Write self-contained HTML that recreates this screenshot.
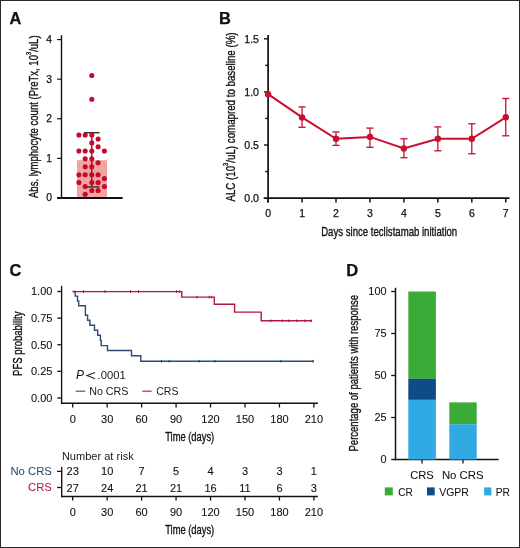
<!DOCTYPE html><html><head><meta charset="utf-8"><style>html,body{margin:0;padding:0;background:#fff;}svg{display:block;will-change:transform;}text{font-family:"Liberation Sans",sans-serif;}</style></head><body>
<svg width="520" height="548" viewBox="0 0 520 548">
<rect x="0" y="0" width="520" height="548" fill="#fff"/>
<rect x="0.5" y="0.5" width="519" height="547" fill="none" stroke="#2a2a2a" stroke-width="1"/>
<text x="9.6" y="23.8" font-size="16.4" text-anchor="start" fill="#111" font-weight="bold" stroke="#111" stroke-width="0.25">A</text>
<rect x="77" y="160.2" width="30" height="37.5" fill="#f0a5a0"/>
<line x1="61.5" y1="35.2" x2="61.5" y2="198.5" stroke="#111" stroke-width="1.4"/>
<line x1="57.1" y1="197.95" x2="122.6" y2="197.95" stroke="#111" stroke-width="2"/>
<line x1="57.1" y1="39.54999999999998" x2="61.5" y2="39.54999999999998" stroke="#111" stroke-width="1.2"/>
<line x1="57.1" y1="79.14999999999998" x2="61.5" y2="79.14999999999998" stroke="#111" stroke-width="1.2"/>
<line x1="57.1" y1="118.74999999999999" x2="61.5" y2="118.74999999999999" stroke="#111" stroke-width="1.2"/>
<line x1="57.1" y1="158.35" x2="61.5" y2="158.35" stroke="#111" stroke-width="1.2"/>
<text x="49.1" y="201.45" font-size="10.3" text-anchor="middle" fill="#111" stroke="#111" stroke-width="0.25">0</text>
<text x="49.1" y="161.85" font-size="10.3" text-anchor="middle" fill="#111" stroke="#111" stroke-width="0.25">1</text>
<text x="49.1" y="122.24999999999999" font-size="10.3" text-anchor="middle" fill="#111" stroke="#111" stroke-width="0.25">2</text>
<text x="49.1" y="82.64999999999998" font-size="10.3" text-anchor="middle" fill="#111" stroke="#111" stroke-width="0.25">3</text>
<text x="49.1" y="43.04999999999998" font-size="10.3" text-anchor="middle" fill="#111" stroke="#111" stroke-width="0.25">4</text>
<text transform="translate(38.2,116.7) rotate(-90)" font-size="12.8" text-anchor="middle" fill="#111" textLength="162.6" lengthAdjust="spacingAndGlyphs" stroke="#111" stroke-width="0.35">Abs. lymphocyte count (PreTx, 10<tspan font-size="7.8" dy="-7.4">3</tspan><tspan dy="7.4">/uL)</tspan></text>
<line x1="91.8" y1="132.7" x2="91.8" y2="186.9" stroke="#3a2a2a" stroke-width="1.3"/>
<line x1="84" y1="132.7" x2="99.6" y2="132.7" stroke="#3a2a2a" stroke-width="1.4"/>
<line x1="84" y1="186.9" x2="99.6" y2="186.9" stroke="#3a2a2a" stroke-width="1.4"/>
<circle cx="91.8" cy="75.5" r="2.55" fill="#c40a2c"/>
<circle cx="91.8" cy="99.2" r="2.55" fill="#c40a2c"/>
<circle cx="78.9" cy="135" r="2.55" fill="#c40a2c"/>
<circle cx="85.2" cy="135" r="2.55" fill="#c40a2c"/>
<circle cx="91.8" cy="135" r="2.55" fill="#c40a2c"/>
<circle cx="98.1" cy="139" r="2.55" fill="#c40a2c"/>
<circle cx="91.8" cy="142.9" r="2.55" fill="#c40a2c"/>
<circle cx="98.1" cy="146.7" r="2.55" fill="#c40a2c"/>
<circle cx="78.9" cy="151" r="2.55" fill="#c40a2c"/>
<circle cx="85.2" cy="151" r="2.55" fill="#c40a2c"/>
<circle cx="91.8" cy="151" r="2.55" fill="#c40a2c"/>
<circle cx="104.4" cy="151" r="2.55" fill="#c40a2c"/>
<circle cx="85.2" cy="158.7" r="2.55" fill="#c40a2c"/>
<circle cx="91.8" cy="158.7" r="2.55" fill="#c40a2c"/>
<circle cx="98.1" cy="162.7" r="2.55" fill="#c40a2c"/>
<circle cx="85.2" cy="166.8" r="2.55" fill="#c40a2c"/>
<circle cx="91.8" cy="166.8" r="2.55" fill="#c40a2c"/>
<circle cx="78.9" cy="174.7" r="2.55" fill="#c40a2c"/>
<circle cx="85.2" cy="174.7" r="2.55" fill="#c40a2c"/>
<circle cx="91.8" cy="174.7" r="2.55" fill="#c40a2c"/>
<circle cx="98.1" cy="174.7" r="2.55" fill="#c40a2c"/>
<circle cx="104.4" cy="178.5" r="2.55" fill="#c40a2c"/>
<circle cx="78.9" cy="182.5" r="2.55" fill="#c40a2c"/>
<circle cx="91.8" cy="182.5" r="2.55" fill="#c40a2c"/>
<circle cx="98.1" cy="182.5" r="2.55" fill="#c40a2c"/>
<circle cx="85.2" cy="186.5" r="2.55" fill="#c40a2c"/>
<circle cx="104.4" cy="186.5" r="2.55" fill="#c40a2c"/>
<circle cx="91.8" cy="190.5" r="2.55" fill="#c40a2c"/>
<circle cx="98.1" cy="190.5" r="2.55" fill="#c40a2c"/>
<circle cx="85.2" cy="194.2" r="2.55" fill="#c40a2c"/>
<text x="219.0" y="23.75" font-size="16.4" text-anchor="start" fill="#111" font-weight="bold" stroke="#111" stroke-width="0.25">B</text>
<line x1="268.1" y1="35" x2="268.1" y2="202.4" stroke="#111" stroke-width="1.7"/>
<line x1="263.7" y1="198.1" x2="509.6" y2="198.1" stroke="#111" stroke-width="1.9"/>
<line x1="264.0" y1="145.0" x2="268.1" y2="145.0" stroke="#111" stroke-width="1.4"/>
<line x1="264.0" y1="91.89999999999999" x2="268.1" y2="91.89999999999999" stroke="#111" stroke-width="1.4"/>
<line x1="264.0" y1="38.79999999999998" x2="268.1" y2="38.79999999999998" stroke="#111" stroke-width="1.4"/>
<line x1="265.2" y1="171.54999999999998" x2="268.1" y2="171.54999999999998" stroke="#111" stroke-width="1.4"/>
<line x1="265.2" y1="118.44999999999999" x2="268.1" y2="118.44999999999999" stroke="#111" stroke-width="1.4"/>
<line x1="265.2" y1="65.35" x2="268.1" y2="65.35" stroke="#111" stroke-width="1.4"/>
<line x1="268.1" y1="198.1" x2="268.1" y2="202.5" stroke="#111" stroke-width="1.5"/>
<text x="268.1" y="216.7" font-size="10.5" text-anchor="middle" fill="#111" stroke="#111" stroke-width="0.25">0</text>
<line x1="302.05" y1="198.1" x2="302.05" y2="202.5" stroke="#111" stroke-width="1.5"/>
<text x="302.05" y="216.7" font-size="10.5" text-anchor="middle" fill="#111" stroke="#111" stroke-width="0.25">1</text>
<line x1="336.0" y1="198.1" x2="336.0" y2="202.5" stroke="#111" stroke-width="1.5"/>
<text x="336.0" y="216.7" font-size="10.5" text-anchor="middle" fill="#111" stroke="#111" stroke-width="0.25">2</text>
<line x1="369.95000000000005" y1="198.1" x2="369.95000000000005" y2="202.5" stroke="#111" stroke-width="1.5"/>
<text x="369.95000000000005" y="216.7" font-size="10.5" text-anchor="middle" fill="#111" stroke="#111" stroke-width="0.25">3</text>
<line x1="403.90000000000003" y1="198.1" x2="403.90000000000003" y2="202.5" stroke="#111" stroke-width="1.5"/>
<text x="403.90000000000003" y="216.7" font-size="10.5" text-anchor="middle" fill="#111" stroke="#111" stroke-width="0.25">4</text>
<line x1="437.85" y1="198.1" x2="437.85" y2="202.5" stroke="#111" stroke-width="1.5"/>
<text x="437.85" y="216.7" font-size="10.5" text-anchor="middle" fill="#111" stroke="#111" stroke-width="0.25">5</text>
<line x1="471.80000000000007" y1="198.1" x2="471.80000000000007" y2="202.5" stroke="#111" stroke-width="1.5"/>
<text x="471.80000000000007" y="216.7" font-size="10.5" text-anchor="middle" fill="#111" stroke="#111" stroke-width="0.25">6</text>
<line x1="505.75000000000006" y1="198.1" x2="505.75000000000006" y2="202.5" stroke="#111" stroke-width="1.5"/>
<text x="505.75000000000006" y="216.7" font-size="10.5" text-anchor="middle" fill="#111" stroke="#111" stroke-width="0.25">7</text>
<text x="259.0" y="201.79999999999998" font-size="10.6" text-anchor="end" fill="#111" stroke="#111" stroke-width="0.25">0.0</text>
<text x="259.0" y="148.7" font-size="10.6" text-anchor="end" fill="#111" stroke="#111" stroke-width="0.25">0.5</text>
<text x="259.0" y="95.6" font-size="10.6" text-anchor="end" fill="#111" stroke="#111" stroke-width="0.25">1.0</text>
<text x="259.0" y="42.499999999999986" font-size="10.6" text-anchor="end" fill="#111" stroke="#111" stroke-width="0.25">1.5</text>
<text transform="translate(235.3,117) rotate(-90)" font-size="12.8" text-anchor="middle" fill="#111" textLength="169.1" lengthAdjust="spacingAndGlyphs" stroke="#111" stroke-width="0.35">ALC (10<tspan font-size="7.6" dy="-7.8">3</tspan><tspan dy="7.8">/uL) comapred to baseline (%)</tspan></text>
<text x="389.2" y="235.8" font-size="12.8" text-anchor="middle" fill="#111" textLength="136" lengthAdjust="spacingAndGlyphs" stroke="#111" stroke-width="0.35">Days since teclistamab initiation</text>
<path d="M268.1,94.2 L302.1,117.4 L336.0,138.8 L370.0,136.9 L403.9,148.5 L437.9,138.8 L471.8,138.8 L505.8,117.3" fill="none" stroke="#c8102e" stroke-width="2"/>
<circle cx="268.1" cy="94.2" r="3.2" fill="#c8102e"/>
<line x1="302.05" y1="106.9" x2="302.05" y2="127.3" stroke="#c8102e" stroke-width="1.3"/>
<line x1="298.45" y1="106.9" x2="305.65000000000003" y2="106.9" stroke="#c8102e" stroke-width="1.3"/>
<line x1="298.45" y1="127.3" x2="305.65000000000003" y2="127.3" stroke="#c8102e" stroke-width="1.3"/>
<circle cx="302.1" cy="117.4" r="3.2" fill="#c8102e"/>
<line x1="336.0" y1="131.9" x2="336.0" y2="145.4" stroke="#c8102e" stroke-width="1.3"/>
<line x1="332.4" y1="131.9" x2="339.6" y2="131.9" stroke="#c8102e" stroke-width="1.3"/>
<line x1="332.4" y1="145.4" x2="339.6" y2="145.4" stroke="#c8102e" stroke-width="1.3"/>
<circle cx="336.0" cy="138.8" r="3.2" fill="#c8102e"/>
<line x1="369.95000000000005" y1="128.1" x2="369.95000000000005" y2="147.3" stroke="#c8102e" stroke-width="1.3"/>
<line x1="366.35" y1="128.1" x2="373.55000000000007" y2="128.1" stroke="#c8102e" stroke-width="1.3"/>
<line x1="366.35" y1="147.3" x2="373.55000000000007" y2="147.3" stroke="#c8102e" stroke-width="1.3"/>
<circle cx="370.0" cy="136.9" r="3.2" fill="#c8102e"/>
<line x1="403.90000000000003" y1="138.8" x2="403.90000000000003" y2="157.7" stroke="#c8102e" stroke-width="1.3"/>
<line x1="400.3" y1="138.8" x2="407.50000000000006" y2="138.8" stroke="#c8102e" stroke-width="1.3"/>
<line x1="400.3" y1="157.7" x2="407.50000000000006" y2="157.7" stroke="#c8102e" stroke-width="1.3"/>
<circle cx="403.9" cy="148.5" r="3.2" fill="#c8102e"/>
<line x1="437.85" y1="126.9" x2="437.85" y2="150.8" stroke="#c8102e" stroke-width="1.3"/>
<line x1="434.25" y1="126.9" x2="441.45000000000005" y2="126.9" stroke="#c8102e" stroke-width="1.3"/>
<line x1="434.25" y1="150.8" x2="441.45000000000005" y2="150.8" stroke="#c8102e" stroke-width="1.3"/>
<circle cx="437.9" cy="138.8" r="3.2" fill="#c8102e"/>
<line x1="471.80000000000007" y1="123.8" x2="471.80000000000007" y2="153.8" stroke="#c8102e" stroke-width="1.3"/>
<line x1="468.20000000000005" y1="123.8" x2="475.4000000000001" y2="123.8" stroke="#c8102e" stroke-width="1.3"/>
<line x1="468.20000000000005" y1="153.8" x2="475.4000000000001" y2="153.8" stroke="#c8102e" stroke-width="1.3"/>
<circle cx="471.8" cy="138.8" r="3.2" fill="#c8102e"/>
<line x1="505.75000000000006" y1="98.5" x2="505.75000000000006" y2="135.8" stroke="#c8102e" stroke-width="1.3"/>
<line x1="502.15000000000003" y1="98.5" x2="509.3500000000001" y2="98.5" stroke="#c8102e" stroke-width="1.3"/>
<line x1="502.15000000000003" y1="135.8" x2="509.3500000000001" y2="135.8" stroke="#c8102e" stroke-width="1.3"/>
<circle cx="505.8" cy="117.3" r="3.2" fill="#c8102e"/>
<text x="9.6" y="276.2" font-size="16.4" text-anchor="start" fill="#111" font-weight="bold" stroke="#111" stroke-width="0.25">C</text>
<line x1="61.6" y1="285.8" x2="61.6" y2="403.8" stroke="#111" stroke-width="1.35"/>
<line x1="61" y1="403.2" x2="317.9" y2="403.2" stroke="#111" stroke-width="1.35"/>
<line x1="57.3" y1="398.0" x2="61.6" y2="398.0" stroke="#111" stroke-width="1.3"/>
<text x="52.4" y="401.9" font-size="11" text-anchor="end" fill="#111" stroke="#111" stroke-width="0.1">0.00</text>
<line x1="57.3" y1="371.375" x2="61.6" y2="371.375" stroke="#111" stroke-width="1.3"/>
<text x="52.4" y="375.275" font-size="11" text-anchor="end" fill="#111" stroke="#111" stroke-width="0.1">0.25</text>
<line x1="57.3" y1="344.75" x2="61.6" y2="344.75" stroke="#111" stroke-width="1.3"/>
<text x="52.4" y="348.65" font-size="11" text-anchor="end" fill="#111" stroke="#111" stroke-width="0.1">0.50</text>
<line x1="57.3" y1="318.125" x2="61.6" y2="318.125" stroke="#111" stroke-width="1.3"/>
<text x="52.4" y="322.025" font-size="11" text-anchor="end" fill="#111" stroke="#111" stroke-width="0.1">0.75</text>
<line x1="57.3" y1="291.5" x2="61.6" y2="291.5" stroke="#111" stroke-width="1.3"/>
<text x="52.4" y="295.4" font-size="11" text-anchor="end" fill="#111" stroke="#111" stroke-width="0.1">1.00</text>
<line x1="72.7" y1="403.2" x2="72.7" y2="407.5" stroke="#111" stroke-width="1.3"/>
<text x="72.7" y="422.6" font-size="11" text-anchor="middle" fill="#111" stroke="#111" stroke-width="0.1">0</text>
<line x1="107.158" y1="403.2" x2="107.158" y2="407.5" stroke="#111" stroke-width="1.3"/>
<text x="107.158" y="422.6" font-size="11" text-anchor="middle" fill="#111" stroke="#111" stroke-width="0.1">30</text>
<line x1="141.61599999999999" y1="403.2" x2="141.61599999999999" y2="407.5" stroke="#111" stroke-width="1.3"/>
<text x="141.61599999999999" y="422.6" font-size="11" text-anchor="middle" fill="#111" stroke="#111" stroke-width="0.1">60</text>
<line x1="176.074" y1="403.2" x2="176.074" y2="407.5" stroke="#111" stroke-width="1.3"/>
<text x="176.074" y="422.6" font-size="11" text-anchor="middle" fill="#111" stroke="#111" stroke-width="0.1">90</text>
<line x1="210.53199999999998" y1="403.2" x2="210.53199999999998" y2="407.5" stroke="#111" stroke-width="1.3"/>
<text x="210.53199999999998" y="422.6" font-size="11" text-anchor="middle" fill="#111" stroke="#111" stroke-width="0.1">120</text>
<line x1="244.99" y1="403.2" x2="244.99" y2="407.5" stroke="#111" stroke-width="1.3"/>
<text x="244.99" y="422.6" font-size="11" text-anchor="middle" fill="#111" stroke="#111" stroke-width="0.1">150</text>
<line x1="279.44800000000004" y1="403.2" x2="279.44800000000004" y2="407.5" stroke="#111" stroke-width="1.3"/>
<text x="279.44800000000004" y="422.6" font-size="11" text-anchor="middle" fill="#111" stroke="#111" stroke-width="0.1">180</text>
<line x1="313.906" y1="403.2" x2="313.906" y2="407.5" stroke="#111" stroke-width="1.3"/>
<text x="313.906" y="422.6" font-size="11" text-anchor="middle" fill="#111" stroke="#111" stroke-width="0.1">210</text>
<text x="189.7" y="441.2" font-size="12.5" text-anchor="middle" fill="#111" textLength="49" lengthAdjust="spacingAndGlyphs" stroke="#111" stroke-width="0.35">Time (days)</text>
<text transform="translate(21.5,343.7) rotate(-90)" font-size="12.8" text-anchor="middle" fill="#111" textLength="64.4" lengthAdjust="spacingAndGlyphs" stroke="#111" stroke-width="0.35">PFS probability</text>
<path d="M72.7,291.6 H181.8 V297.1 H214.3 V304.2 H234.6 V312.1 H261.2 V320.8 H311.9" fill="none" stroke="#b0183e" stroke-width="1.4"/>
<path d="M72.7,291.5 H75.2 V296.1 H77.5 V301 H78.7 V305.7 H85.4 V315.2 H87.6 V320.3 H89.9 V325.2 H94.5 V330.2 H97.7 V335.2 H100.4 V340.4 H101.2 V345.6 H107.5 V350.5 H131.5 V355.8 H140.8 V361.2 H313.8" fill="none" stroke="#2a4d74" stroke-width="1.4"/>
<line x1="83.4" y1="290.2" x2="83.4" y2="292.9" stroke="#9a1535" stroke-width="1"/>
<line x1="105.1" y1="290.2" x2="105.1" y2="292.9" stroke="#9a1535" stroke-width="1"/>
<line x1="130.5" y1="290.2" x2="130.5" y2="292.9" stroke="#9a1535" stroke-width="1"/>
<line x1="138.5" y1="290.2" x2="138.5" y2="292.9" stroke="#9a1535" stroke-width="1"/>
<line x1="176.6" y1="290.2" x2="176.6" y2="292.9" stroke="#9a1535" stroke-width="1"/>
<line x1="179.6" y1="290.2" x2="179.6" y2="292.9" stroke="#9a1535" stroke-width="1"/>
<line x1="196.9" y1="295.8" x2="196.9" y2="298.4" stroke="#9a1535" stroke-width="1"/>
<line x1="209.2" y1="295.8" x2="209.2" y2="298.4" stroke="#9a1535" stroke-width="1"/>
<line x1="211.7" y1="295.8" x2="211.7" y2="298.4" stroke="#9a1535" stroke-width="1"/>
<line x1="270.8" y1="319.5" x2="270.8" y2="322.1" stroke="#9a1535" stroke-width="1"/>
<line x1="282.4" y1="319.5" x2="282.4" y2="322.1" stroke="#9a1535" stroke-width="1"/>
<line x1="288.8" y1="319.5" x2="288.8" y2="322.1" stroke="#9a1535" stroke-width="1"/>
<line x1="296.7" y1="319.5" x2="296.7" y2="322.1" stroke="#9a1535" stroke-width="1"/>
<line x1="304.9" y1="319.5" x2="304.9" y2="322.1" stroke="#9a1535" stroke-width="1"/>
<line x1="311.1" y1="319.5" x2="311.1" y2="322.1" stroke="#9a1535" stroke-width="1"/>
<line x1="161.5" y1="359.9" x2="161.5" y2="362.5" stroke="#253f5c" stroke-width="1"/>
<line x1="169.2" y1="359.9" x2="169.2" y2="362.5" stroke="#253f5c" stroke-width="1"/>
<line x1="199.1" y1="359.9" x2="199.1" y2="362.5" stroke="#253f5c" stroke-width="1"/>
<line x1="214.9" y1="359.9" x2="214.9" y2="362.5" stroke="#253f5c" stroke-width="1"/>
<line x1="280.9" y1="359.9" x2="280.9" y2="362.5" stroke="#253f5c" stroke-width="1"/>
<line x1="313" y1="359.9" x2="313" y2="362.5" stroke="#253f5c" stroke-width="1"/>
<text x="76.0" y="378.9" font-size="12" fill="#111" font-style="italic">P</text>
<path d="M95.1,372.4 L87,375.6 L95.1,378.8" fill="none" stroke="#222" stroke-width="1.05"/>
<text x="97.6" y="378.9" font-size="11.8" text-anchor="start" fill="#1a1a1a" textLength="28.2" lengthAdjust="spacingAndGlyphs">.0001</text>
<line x1="75.7" y1="391.2" x2="85.2" y2="391.2" stroke="#4a6a8c" stroke-width="1.3"/>
<text x="89.2" y="395.2" font-size="11" text-anchor="start" fill="#1a1a1a" textLength="39.3" lengthAdjust="spacingAndGlyphs">No CRS</text>
<line x1="142.3" y1="391.2" x2="151.7" y2="391.2" stroke="#b83a5c" stroke-width="1.3"/>
<text x="156.2" y="395.2" font-size="11" text-anchor="start" fill="#1a1a1a" textLength="22.3" lengthAdjust="spacingAndGlyphs">CRS</text>
<text x="61.9" y="459.7" font-size="11" text-anchor="start" fill="#1a1a1a" textLength="71.8" lengthAdjust="spacingAndGlyphs">Number at risk</text>
<text x="51.9" y="475" font-size="11" text-anchor="end" fill="#294d72" textLength="41.5" lengthAdjust="spacingAndGlyphs" stroke="#294d72" stroke-width="0.05">No CRS</text>
<text x="51.9" y="491.2" font-size="11" text-anchor="end" fill="#b8183c" textLength="23.8" lengthAdjust="spacingAndGlyphs" stroke="#b8183c" stroke-width="0.05">CRS</text>
<line x1="61.7" y1="467" x2="61.7" y2="497.2" stroke="#111" stroke-width="1.35"/>
<line x1="61.1" y1="496.5" x2="317.9" y2="496.5" stroke="#111" stroke-width="1.5"/>
<line x1="57.1" y1="471.4" x2="61.7" y2="471.4" stroke="#111" stroke-width="1.3"/>
<line x1="57.1" y1="487.5" x2="61.7" y2="487.5" stroke="#111" stroke-width="1.3"/>
<line x1="72.7" y1="496.5" x2="72.7" y2="500.6" stroke="#111" stroke-width="1.3"/>
<text x="72.7" y="516" font-size="11" text-anchor="middle" fill="#111" stroke="#111" stroke-width="0.1">0</text>
<text x="72.7" y="474.9" font-size="11" text-anchor="middle" fill="#111" stroke="#111" stroke-width="0.1">23</text>
<text x="72.7" y="491.7" font-size="11" text-anchor="middle" fill="#111" stroke="#111" stroke-width="0.1">27</text>
<line x1="107.158" y1="496.5" x2="107.158" y2="500.6" stroke="#111" stroke-width="1.3"/>
<text x="107.158" y="516" font-size="11" text-anchor="middle" fill="#111" stroke="#111" stroke-width="0.1">30</text>
<text x="107.158" y="474.9" font-size="11" text-anchor="middle" fill="#111" stroke="#111" stroke-width="0.1">10</text>
<text x="107.158" y="491.7" font-size="11" text-anchor="middle" fill="#111" stroke="#111" stroke-width="0.1">24</text>
<line x1="141.61599999999999" y1="496.5" x2="141.61599999999999" y2="500.6" stroke="#111" stroke-width="1.3"/>
<text x="141.61599999999999" y="516" font-size="11" text-anchor="middle" fill="#111" stroke="#111" stroke-width="0.1">60</text>
<text x="141.61599999999999" y="474.9" font-size="11" text-anchor="middle" fill="#111" stroke="#111" stroke-width="0.1">7</text>
<text x="141.61599999999999" y="491.7" font-size="11" text-anchor="middle" fill="#111" stroke="#111" stroke-width="0.1">21</text>
<line x1="176.074" y1="496.5" x2="176.074" y2="500.6" stroke="#111" stroke-width="1.3"/>
<text x="176.074" y="516" font-size="11" text-anchor="middle" fill="#111" stroke="#111" stroke-width="0.1">90</text>
<text x="176.074" y="474.9" font-size="11" text-anchor="middle" fill="#111" stroke="#111" stroke-width="0.1">5</text>
<text x="176.074" y="491.7" font-size="11" text-anchor="middle" fill="#111" stroke="#111" stroke-width="0.1">21</text>
<line x1="210.53199999999998" y1="496.5" x2="210.53199999999998" y2="500.6" stroke="#111" stroke-width="1.3"/>
<text x="210.53199999999998" y="516" font-size="11" text-anchor="middle" fill="#111" stroke="#111" stroke-width="0.1">120</text>
<text x="210.53199999999998" y="474.9" font-size="11" text-anchor="middle" fill="#111" stroke="#111" stroke-width="0.1">4</text>
<text x="210.53199999999998" y="491.7" font-size="11" text-anchor="middle" fill="#111" stroke="#111" stroke-width="0.1">16</text>
<line x1="244.99" y1="496.5" x2="244.99" y2="500.6" stroke="#111" stroke-width="1.3"/>
<text x="244.99" y="516" font-size="11" text-anchor="middle" fill="#111" stroke="#111" stroke-width="0.1">150</text>
<text x="244.99" y="474.9" font-size="11" text-anchor="middle" fill="#111" stroke="#111" stroke-width="0.1">3</text>
<text x="244.99" y="491.7" font-size="11" text-anchor="middle" fill="#111" stroke="#111" stroke-width="0.1">11</text>
<line x1="279.44800000000004" y1="496.5" x2="279.44800000000004" y2="500.6" stroke="#111" stroke-width="1.3"/>
<text x="279.44800000000004" y="516" font-size="11" text-anchor="middle" fill="#111" stroke="#111" stroke-width="0.1">180</text>
<text x="279.44800000000004" y="474.9" font-size="11" text-anchor="middle" fill="#111" stroke="#111" stroke-width="0.1">3</text>
<text x="279.44800000000004" y="491.7" font-size="11" text-anchor="middle" fill="#111" stroke="#111" stroke-width="0.1">6</text>
<line x1="313.906" y1="496.5" x2="313.906" y2="500.6" stroke="#111" stroke-width="1.3"/>
<text x="313.906" y="516" font-size="11" text-anchor="middle" fill="#111" stroke="#111" stroke-width="0.1">210</text>
<text x="313.906" y="474.9" font-size="11" text-anchor="middle" fill="#111" stroke="#111" stroke-width="0.1">1</text>
<text x="313.906" y="491.7" font-size="11" text-anchor="middle" fill="#111" stroke="#111" stroke-width="0.1">3</text>
<text x="189.7" y="534.2" font-size="12.5" text-anchor="middle" fill="#111" textLength="49" lengthAdjust="spacingAndGlyphs" stroke="#111" stroke-width="0.35">Time (days)</text>
<text x="346.3" y="276.4" font-size="16.6" text-anchor="start" fill="#111" font-weight="bold" stroke="#111" stroke-width="0.25">D</text>
<line x1="395.5" y1="287.8" x2="395.5" y2="460.3" stroke="#111" stroke-width="1.5"/>
<line x1="394.8" y1="459.6" x2="498.6" y2="459.6" stroke="#111" stroke-width="1.5"/>
<line x1="391.2" y1="459.5" x2="395.5" y2="459.5" stroke="#111" stroke-width="1.3"/>
<text x="386.5" y="463.3" font-size="10.9" text-anchor="end" fill="#111" stroke="#111" stroke-width="0.1">0</text>
<line x1="391.2" y1="417.5" x2="395.5" y2="417.5" stroke="#111" stroke-width="1.3"/>
<text x="386.5" y="421.3" font-size="10.9" text-anchor="end" fill="#111" stroke="#111" stroke-width="0.1">25</text>
<line x1="391.2" y1="375.5" x2="395.5" y2="375.5" stroke="#111" stroke-width="1.3"/>
<text x="386.5" y="379.3" font-size="10.9" text-anchor="end" fill="#111" stroke="#111" stroke-width="0.1">50</text>
<line x1="391.2" y1="333.5" x2="395.5" y2="333.5" stroke="#111" stroke-width="1.3"/>
<text x="386.5" y="337.3" font-size="10.9" text-anchor="end" fill="#111" stroke="#111" stroke-width="0.1">75</text>
<line x1="391.2" y1="291.5" x2="395.5" y2="291.5" stroke="#111" stroke-width="1.3"/>
<text x="386.5" y="295.3" font-size="10.9" text-anchor="end" fill="#111" stroke="#111" stroke-width="0.1">100</text>
<line x1="422" y1="459.6" x2="422" y2="463.6" stroke="#111" stroke-width="1.3"/>
<line x1="463" y1="459.6" x2="463" y2="463.6" stroke="#111" stroke-width="1.3"/>
<rect x="408.3" y="291.5" width="27.6" height="87.36000000000001" fill="#3bab37"/>
<rect x="408.3" y="378.86" width="27.6" height="21.0" fill="#0f4b86"/>
<rect x="408.3" y="399.86" width="27.6" height="59.639999999999986" fill="#30aae2"/>
<rect x="449.3" y="402.38" width="27.4" height="21.840000000000032" fill="#3bab37"/>
<rect x="449.3" y="424.22" width="27.4" height="35.27999999999997" fill="#30aae2"/>
<text x="422" y="478.7" font-size="11.3" text-anchor="middle" fill="#111" textLength="23.6" lengthAdjust="spacingAndGlyphs" stroke="#111" stroke-width="0.05">CRS</text>
<text x="462.8" y="478.7" font-size="11.3" text-anchor="middle" fill="#111" textLength="41.8" lengthAdjust="spacingAndGlyphs" stroke="#111" stroke-width="0.05">No CRS</text>
<text transform="translate(358,373.2) rotate(-90)" font-size="12.8" text-anchor="middle" fill="#111" textLength="156.6" lengthAdjust="spacingAndGlyphs" stroke="#111" stroke-width="0.35">Percentage of patients with response</text>
<rect x="384.8" y="487.4" width="8" height="8" fill="#3bab37"/>
<text x="398.3" y="495.5" font-size="11.2" text-anchor="start" fill="#111" textLength="14.5" lengthAdjust="spacingAndGlyphs" stroke="#111" stroke-width="0.05">CR</text>
<rect x="427" y="487.4" width="7.7" height="8" fill="#0f4b86"/>
<text x="439.2" y="495.5" font-size="11.2" text-anchor="start" fill="#111" textLength="29.7" lengthAdjust="spacingAndGlyphs" stroke="#111" stroke-width="0.05">VGPR</text>
<rect x="484.2" y="487.4" width="7.2" height="8" fill="#30aae2"/>
<text x="495.8" y="495.5" font-size="11.2" text-anchor="start" fill="#111" textLength="14.2" lengthAdjust="spacingAndGlyphs" stroke="#111" stroke-width="0.05">PR</text>
</svg></body></html>
